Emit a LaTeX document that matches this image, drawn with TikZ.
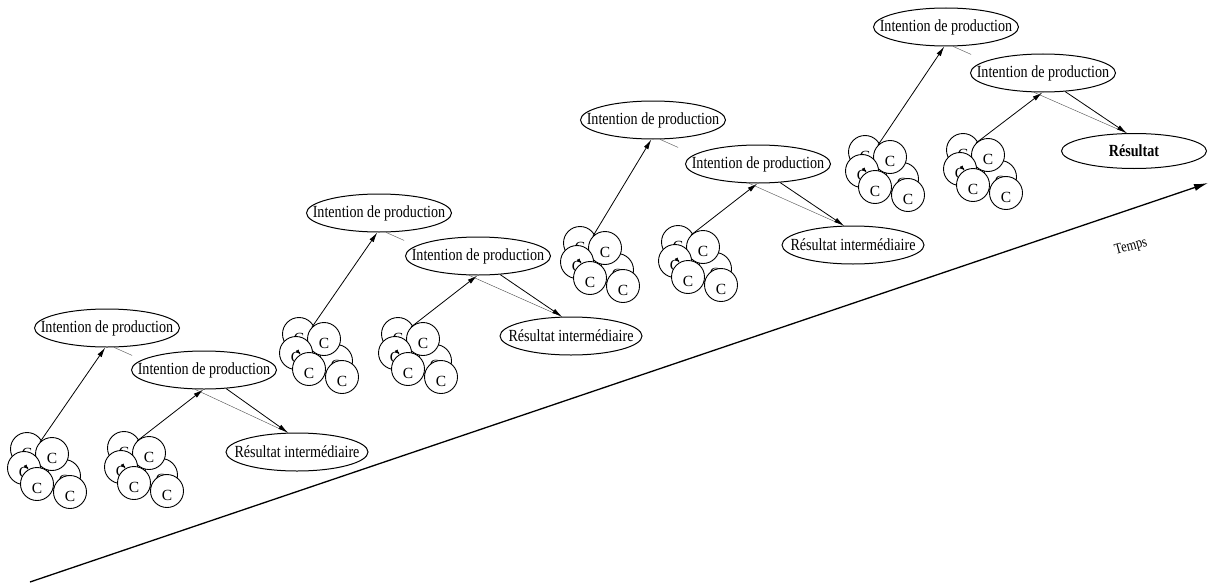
\documentclass[tikz,border=0pt]{standalone}
\usepackage{fontspec}
\setmainfont{Liberation Serif}[FakeStretch=0.83]
\newfontfamily\cfont{Liberation Serif}
\usetikzlibrary{arrows.meta,shapes.geometric,calc}
\newcommand\nowidth[1]{\makebox[0pt]{#1}}
\tikzset{
  intent/.style={ellipse, draw, line width=1pt, minimum width=145pt, minimum height=38pt, inner sep=0pt, fill=white, font=\fontsize{17}{18}\selectfont},
  resu/.style={intent, minimum width=142pt},
  final/.style={intent, minimum height=35pt, font=\fontsize{17}{18}\selectfont\bfseries},
  cc/.style={circle, draw, line width=0.9pt, fill=white, minimum size=33pt, inner sep=0pt, text height=19pt, text depth=0pt, font=\cfont\fontsize{15.5}{15.5}\selectfont},
  link/.style={line width=0.8pt, -{Latex[length=10pt,width=5pt]}},
  faint/.style={line width=0.4pt, draw=black!70},
  axis/.style={line width=1.3pt, -{Latex[length=14pt,width=7pt]}},
  tick/.style={line width=0.6pt, -{Latex[length=5pt,width=4pt]}},
}
\newcommand\drawcluster[2]{%
  \begin{scope}[shift={(#2)}]
    \node[cc] (#1A) at (-25,-5) {C};
    \node[cc] (#1F) at (12,22) {C};
    \node[cc] (#1B) at (0,0) {C};
    \node[cc] (#1C) at (-28,14) {C};
    \node[cc] (#1D) at (-15,30) {C};
    \node[cc] (#1E) at (18,38) {C};
    \draw[tick] ($(#1D.120)+(-4,-4)$) -- (#1D.120);
  \end{scope}}
\begin{document}
\begin{tikzpicture}[x=1pt,y=-1pt]
\useasboundingbox (0,0) rectangle (1217,586);

% time axis
\coordinate (t0) at (30,582);
\coordinate (t1) at (1208,183);
\draw[axis] (t0) -- (t1);
\node[font=\fontsize{15}{15}\selectfont, rotate=15] (tl) at (1131,247) {Temps};

% clusters
\drawcluster{ca}{52,454}
\drawcluster{cb}{149,453}
\drawcluster{cc}{324,339}
\drawcluster{cd}{423,339}
\drawcluster{ce}{605,248}
\drawcluster{cf}{703,247}
\drawcluster{cg}{890,157}
\drawcluster{ch}{988,155}

% ellipses
\node[intent] (I1a) at (107,328) {\nowidth{Intention de production}};
\node[intent] (I1b) at (204,370) {\nowidth{Intention de production}};
\node[resu]   (R1)  at (297,452) {\nowidth{Résultat intermédiaire}};
\node[intent] (I2a) at (379,213) {\nowidth{Intention de production}};
\node[intent] (I2b) at (478,256) {\nowidth{Intention de production}};
\node[resu]   (R2)  at (571,336) {\nowidth{Résultat intermédiaire}};
\node[intent] (I3a) at (653,120) {\nowidth{Intention de production}};
\node[intent] (I3b) at (758,164) {\nowidth{Intention de production}};
\node[resu]   (R3)  at (853,245) {\nowidth{Résultat intermédiaire}};
\node[intent] (I4a) at (946,27) {\nowidth{Intention de production}};
\node[intent] (I4b) at (1043,73) {\nowidth{Intention de production}};
\node[final]  (R4)  at (1134,151) {\nowidth{Résultat}};

% connectors
\foreach \g/\p/\q in {1/ca/cb, 2/cc/cd, 3/ce/cf, 4/cg/ch}{
  \draw[link] (\p B.135) -- (I\g a.265);
  \draw[link] (\q B.135) -- (I\g b.268);
  \draw[faint] (I\g a.290) -- ++(18,8);
}
\draw[faint] (I1b.245) -- (R1.115);
\draw[link]  (I1b.320) -- (R1.115);
\draw[faint] (I2b.245) -- (R2.115);
\draw[link]  (I2b.320) -- (R2.115);
\draw[faint] (I3b.245) -- (R3.115);
\draw[link]  (I3b.320) -- (R3.115);
\draw[faint] (I4b.245) -- (R4.112);
\draw[link]  (I4b.320) -- (R4.112);
\end{tikzpicture}
\end{document}
